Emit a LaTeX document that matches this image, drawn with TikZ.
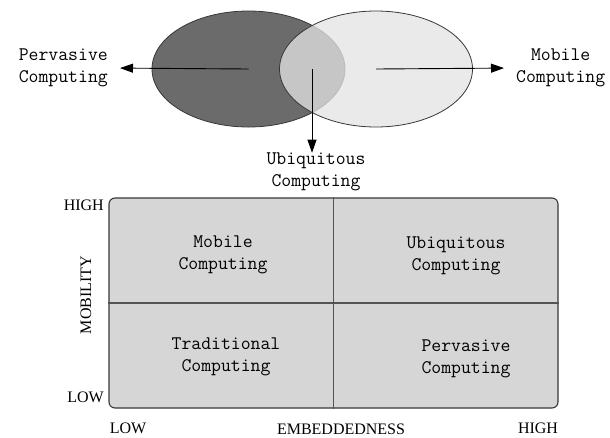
\documentclass[tikz,border=0pt]{standalone}
\usepackage{fontspec}
\usetikzlibrary{shapes.geometric,arrows.meta}
\newfontfamily\axisfont{Liberation Serif}
\definecolor{darkfill}{rgb}{0.42,0.42,0.42}
\definecolor{lightfill}{rgb}{0.89,0.89,0.89}
\definecolor{gridfill}{rgb}{0.84,0.84,0.84}
\definecolor{edgecolor}{rgb}{0.22,0.22,0.22}
\definecolor{splitcolor}{rgb}{0.33,0.33,0.33}

\begin{document}
\begin{tikzpicture}[
    x=1pt, y=-1pt,
    %% pixel grid of the figure: 610 x 437, y runs downwards
    oval/.style={ellipse, draw=edgecolor, line width=0.8pt,
                 minimum width=193pt, minimum height=116pt},
    arr/.style={-{Triangle[length=13pt,width=9pt]}, line width=0.9pt},
    lbl/.style={font=\ttfamily\fontsize{19.2}{22}\selectfont,
                align=center, inner sep=0pt},
    axl/.style={font=\axisfont\fontsize{16}{18}\selectfont, inner sep=0pt},
]
\useasboundingbox (0,0) rectangle (610,437);

%% ── Overlapping ovals ────────────────────────────────────────────────────
\node[oval, fill=darkfill] (perv) at (248.5,69) {};
\node[oval, fill=lightfill, fill opacity=0.76] (mob) at (376,69) {};
\coordinate (lens) at (312,69);

%% ── Oval labels ──────────────────────────────────────────────────────────
\node[lbl, anchor=east] (pervtxt) at (108,68) {Pervasive\\Computing};
\node[lbl, anchor=west] (mobtxt)  at (516,68) {Mobile\\Computing};
\node[lbl] (ubitxt) at (316,172) {Ubiquitous\\Computing};

\draw[arr, shorten >=12pt] (perv.center) -- (pervtxt.east);
\draw[arr, shorten >=12pt] (mob.center)  -- (mobtxt.west);
\draw[arr] (lens) -- (lens |- ubitxt.north);

%% ── Quadrant chart ───────────────────────────────────────────────────────
\node[draw=edgecolor, fill=gridfill, rounded corners=6pt, line width=1.1pt,
      minimum width=449pt, minimum height=210pt, inner sep=0pt]
    (grid) at (333.5,303) {};
\draw[splitcolor, line width=1.5pt] (grid.north) -- (grid.south);
\draw[splitcolor, line width=1.5pt] (grid.west)  -- (grid.east);

\node[lbl] (cmob)  at (223,255) {Mobile\\Computing};
\node[lbl] (cubi)  at (456,256) {Ubiquitous\\Computing};
\node[lbl] (ctrad) at (226,357) {Traditional\\Computing};
\node[lbl] (cperv) at (466,359) {Pervasive\\Computing};

%% ── Axis labels ──────────────────────────────────────────────────────────
\node[axl, anchor=east] (yhigh) at (104,205) {HIGH};
\node[axl, anchor=east] (ylow)  at (104,397) {LOW};
\node[axl, rotate=90]   (yname) at (86,295)  {MOBILITY};
\node[axl] (xlow)  at (128,428) {LOW};
\node[axl] (xname) at (341,429) {EMBEDDEDNESS};
\node[axl] (xhigh) at (538,428) {HIGH};

\end{tikzpicture}
\end{document}
